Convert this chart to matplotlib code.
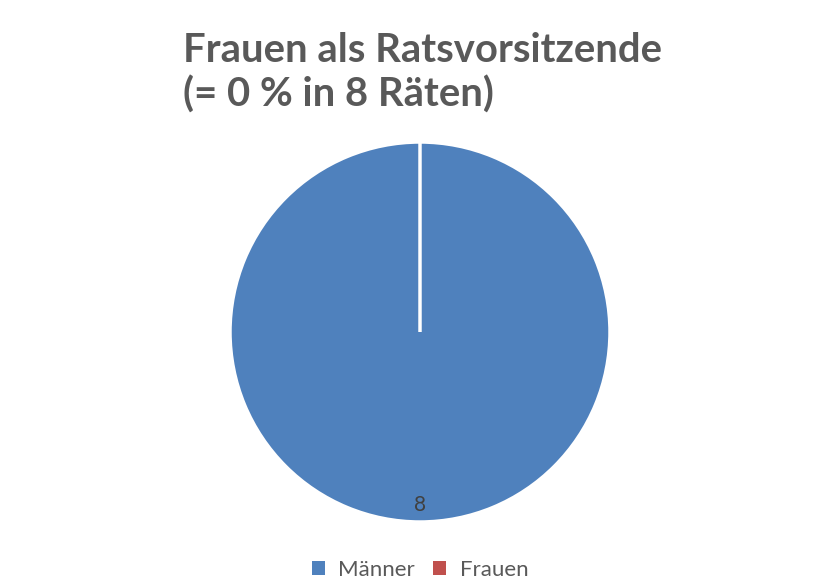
import matplotlib
matplotlib.use("Agg")
import matplotlib.pyplot as plt
from matplotlib.patches import Patch

categories = ["Männer", "Frauen"]
values = [8, 0]
colors = ["#4F81BD", "#C0504D"]
title = "Frauen als Ratsvorsitzende\n(= 0 % in 8 Räten)"

W, H = 840, 588
fig = plt.figure(figsize=(W / 100, H / 100), dpi=100)
fig.patch.set_facecolor("white")

cx, cy, r = 420, 588 - 332, 190
ax = fig.add_axes([(cx - r) / W, (cy - r) / H, 2 * r / W, 2 * r / H])
ax.axis("off")

def fmt(p):
    v = round(p * sum(values) / 100)
    return f"{v}" if v > 0 else ""

wedges, texts, autotexts = ax.pie(
    values, colors=colors, startangle=90, counterclock=False, radius=1,
    autopct=fmt, pctdistance=0.91,
    wedgeprops=dict(edgecolor="white", linewidth=2.5),
    textprops=dict(color="#404040", fontsize=15, family=["Lato", "DejaVu Sans"]),
)
ax.set_xlim(-1, 1)
ax.set_ylim(-1, 1)
ax.set_aspect("equal")

fig.text(183 / W, 1 - 32 / H, title, ha="left", va="top", fontsize=28.8,
         fontweight="bold", color="#595959", family=["Lato", "DejaVu Sans"],
         linespacing=1.2)

handles = [Patch(facecolor=c, edgecolor="none") for c in colors]
fig.legend(handles, categories, loc="center", bbox_to_anchor=(420 / W, 1 - 570 / H),
           ncol=2, frameon=False, handlelength=0.6, handleheight=0.6,
           handletextpad=0.6, columnspacing=0.8,
           prop=dict(family=["Lato", "DejaVu Sans"], size=16),
           labelcolor="#595959")

fig.savefig("out.png", dpi=100, facecolor="white")
